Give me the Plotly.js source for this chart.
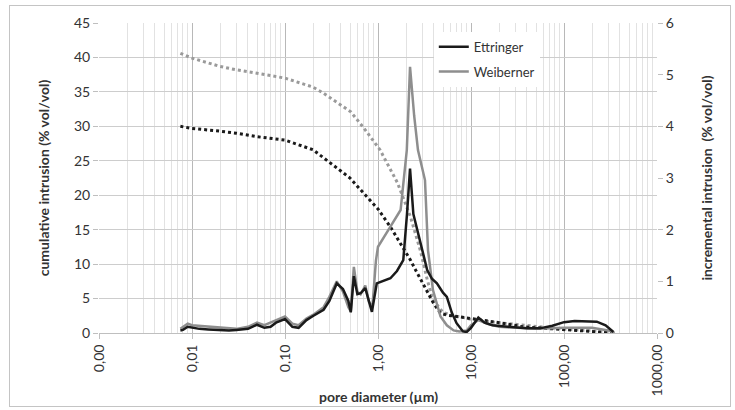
<!DOCTYPE html>
<html>
<head>
<meta charset="utf-8">
<script src="https://cdn.plot.ly/plotly-3.0.1.min.js"></script>
<style>
  html, body { margin: 0; padding: 0; background: #fff; }
  #chart { width: 735px; height: 410px; position: relative; }
  #frame { position: absolute; left: 9px; top: 5px; width: 722px; height: 402px; border: 1px solid #c4c4c4; pointer-events: none; box-sizing: border-box; }
</style>
</head>
<body>
<div id="chart"></div>
<div id="frame"></div>
<script>
// ---- data ----
// cumulative intrusion, left axis (% vol/vol)
const ettCumX = [0.0075, 0.01, 0.02, 0.03, 0.05, 0.1, 0.2, 0.3, 0.5, 0.7, 1.0, 1.36, 2.0, 2.23, 2.5, 3.0, 3.39, 4.0, 4.68, 5.5, 7.0, 10, 12.6, 20, 36, 60, 107, 150, 240, 300, 350];
const ettCumY = [30.0, 29.7, 29.3, 29.0, 28.5, 28.0, 26.6, 24.8, 22.5, 20.3, 18.0, 15.4, 11.8, 10.6, 9.3, 7.3, 5.8, 4.2, 2.9, 2.6, 2.4, 2.1, 1.9, 1.5, 0.9, 0.7, 0.45, 0.35, 0.2, 0.1, 0.0];
const weiCumX = [0.0075, 0.01, 0.02, 0.03, 0.05, 0.1, 0.2, 0.26, 0.51, 0.7, 1.05, 1.62, 2.23, 2.85, 3.39, 3.9, 5.0, 6.0, 8.0, 10, 20, 50, 100, 200, 300, 350];
const weiCumY = [40.6, 39.9, 38.7, 38.2, 37.7, 37.0, 35.7, 34.8, 32.1, 29.8, 26.6, 21.8, 16.9, 12.0, 7.7, 4.8, 3.0, 2.6, 2.3, 2.0, 1.5, 0.9, 0.55, 0.3, 0.1, 0.0];
// incremental intrusion, right axis (% vol/vol)
const ettIncX = [0.0075, 0.008, 0.009, 0.01, 0.012, 0.015, 0.02, 0.025, 0.03, 0.04, 0.05, 0.06, 0.07, 0.08, 0.1, 0.12, 0.14, 0.17, 0.2, 0.26, 0.3, 0.36, 0.42, 0.48, 0.51, 0.55, 0.6, 0.65, 0.73, 0.8, 0.86, 0.97, 1.36, 1.6, 1.87, 2.05, 2.21, 2.4, 2.83, 3.38, 3.8, 4.3, 5.0, 5.5, 6.2, 7.0, 8.2, 9.0, 10, 12, 14, 17, 25, 40, 55, 75, 100, 130, 225, 280, 340];
const ettIncY = [0.05, 0.06, 0.12, 0.1, 0.08, 0.07, 0.06, 0.05, 0.06, 0.08, 0.16, 0.1, 0.12, 0.2, 0.27, 0.12, 0.1, 0.25, 0.33, 0.45, 0.62, 0.96, 0.85, 0.62, 0.4, 1.1, 0.75, 0.77, 0.87, 0.6, 0.41, 0.96, 1.06, 1.2, 1.41, 2.3, 3.18, 2.3, 1.8, 1.22, 1.05, 0.96, 0.78, 0.7, 0.4, 0.19, 0.03, 0.02, 0.1, 0.3, 0.2, 0.15, 0.12, 0.09, 0.09, 0.14, 0.21, 0.23, 0.22, 0.15, 0.02];
const weiIncX = [0.0075, 0.009, 0.01, 0.015, 0.02, 0.03, 0.04, 0.05, 0.06, 0.08, 0.1, 0.12, 0.14, 0.17, 0.2, 0.26, 0.3, 0.36, 0.42, 0.48, 0.51, 0.55, 0.6, 0.65, 0.73, 0.8, 0.87, 0.95, 1.0, 1.36, 1.75, 2.04, 2.21, 2.45, 2.69, 3.2, 3.45, 3.9, 4.7, 5.5, 6.5, 7.5, 9, 10, 12, 15, 20, 50, 100, 200, 300, 350];
const weiIncY = [0.08, 0.18, 0.15, 0.12, 0.1, 0.08, 0.12, 0.2, 0.15, 0.25, 0.32, 0.18, 0.15, 0.28, 0.35, 0.5, 0.7, 1.0, 0.8, 0.5, 0.42, 1.28, 0.8, 0.75, 0.92, 0.6, 0.5, 1.4, 1.67, 2.06, 2.38, 3.54, 5.15, 4.2, 3.54, 2.96, 1.6, 0.83, 0.32, 0.15, 0.05, 0.03, 0.05, 0.15, 0.25, 0.18, 0.12, 0.08, 0.1, 0.1, 0.05, 0.0];
// axis ticks
const xTickVals = [0.001, 0.01, 0.1, 1, 10, 100, 1000];
const xTickText = ["0,00", "0,01", "0,10", "1,00", "10,00", "100,00", "1000,00"];
const seriesNames = ["Ettringer", "Weiberner"];

// minor log gridline positions (2..9 in each decade)
const minorVals = [];
for (let e = -3; e < 3; e++) for (let m = 2; m <= 9; m++) minorVals.push(m * Math.pow(10, e));

const BLACK = "#1a1a1a", GREY = "#8e8e8e";
const FONT = "Lato, 'Open Sans', sans-serif";

const traces = [
  { x: weiCumX, y: weiCumY, type: "scatter", mode: "lines", yaxis: "y", showlegend: false, hoverinfo: "skip",
    line: { color: "#9a9a9a", width: 3, dash: "dot" } },
  { x: ettCumX, y: ettCumY, type: "scatter", mode: "lines", yaxis: "y", showlegend: false, hoverinfo: "skip",
    line: { color: BLACK, width: 3, dash: "dot" } },
  { x: weiIncX, y: weiIncY, type: "scatter", mode: "lines", yaxis: "y2", name: seriesNames[1], legendgroup: "b", legendrank: 2,
    line: { color: GREY, width: 2.5 } },
  { x: ettIncX, y: ettIncY, type: "scatter", mode: "lines", yaxis: "y2", name: seriesNames[0], legendgroup: "a", legendrank: 1,
    line: { color: BLACK, width: 2.5 } }
];

const layout = {
  width: 735, height: 410,
  margin: { l: 99, r: 78, t: 23, b: 77 },
  paper_bgcolor: "#fff", plot_bgcolor: "#fff",
  font: { family: FONT, size: 14, color: "#333" },
  showlegend: true,
  legend: { x: 0.6, y: 0.972, xanchor: "left", yanchor: "top", bgcolor: "#fff", borderwidth: 0,
            font: { family: FONT, size: 13, color: "#333" }, traceorder: "grouped", tracegroupgap: 5,
            entrywidth: 140, entrywidthmode: "pixels" },
  xaxis: {
    type: "log", range: [-3, 3], tickmode: "array", tickvals: xTickVals, ticktext: xTickText,
    tickangle: -90, ticks: "outside", ticklen: 5, tickcolor: "#bfbfbf",
    showgrid: true, gridcolor: "#b8b8b8", gridwidth: 1,
    showline: true, linecolor: "#bfbfbf", linewidth: 1, zeroline: false,
    minor: { tickmode: "array", tickvals: minorVals, showgrid: true, gridcolor: "#e2e2e2", gridwidth: 1, ticks: "" },
    tickfont: { size: 14, color: "#333" }
  },
  yaxis: {
    range: [0, 45], dtick: 5, ticks: "outside", ticklen: 5, tickcolor: "#bfbfbf",
    showgrid: true, gridcolor: "#cdcdcd", zeroline: false, showline: false,
    tickfont: { size: 14, color: "#333" },
    title: { text: "cumulative intrusion (% vol/vol)", standoff: 21, font: { family: FONT, size: 14, color: "#333", weight: "bold" } }
  },
  yaxis2: {
    range: [0, 6], dtick: 1, overlaying: "y", side: "right", ticks: "outside", ticklen: 5, tickcolor: "#bfbfbf",
    showgrid: false, zeroline: false, showline: false,
    tickfont: { size: 14, color: "#333" },
    title: { text: "incremental intrusion  (% vol/vol)", standoff: 29, font: { family: FONT, size: 14, color: "#333", weight: "bold" } }
  },
  annotations: [
    { text: "pore diameter (µm)", xref: "paper", yref: "paper", x: 0.5, y: -0.206, xanchor: "center", yanchor: "middle",
      showarrow: false, font: { family: FONT, size: 14, color: "#333", weight: "bold" } }
  ]
};

Plotly.newPlot("chart", traces, layout, { displayModeBar: false, staticPlot: true });
</script>
</body>
</html>
